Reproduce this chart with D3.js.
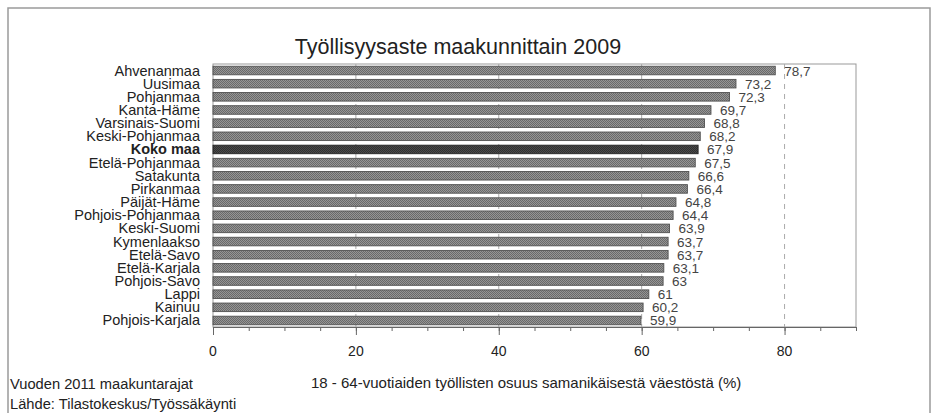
<!DOCTYPE html>
<html><head><meta charset="utf-8">
<script src="https://cdn.jsdelivr.net/npm/d3@7"></script>
<style>body{margin:0;background:#fff}svg{display:block;font-family:"Liberation Sans",Arial,sans-serif}</style>
</head><body>
<svg id="c" width="933" height="413"></svg>
<script>
const categories = ["Ahvenanmaa","Uusimaa","Pohjanmaa","Kanta-Häme","Varsinais-Suomi","Keski-Pohjanmaa","Koko maa","Etelä-Pohjanmaa","Satakunta","Pirkanmaa","Päijät-Häme","Pohjois-Pohjanmaa","Keski-Suomi","Kymenlaakso","Etelä-Savo","Etelä-Karjala","Pohjois-Savo","Lappi","Kainuu","Pohjois-Karjala"];
const values = [78.7,73.2,72.3,69.7,68.8,68.2,67.9,67.5,66.6,66.4,64.8,64.4,63.9,63.7,63.7,63.1,63,61,60.2,59.9];
const majorTicks = [0,20,40,60,80];
const minorTicks = d3.range(0,91,5);
const highlight = "Koko maa";
const title = "Työllisyysaste maakunnittain 2009";
const axisTitle = "18 - 64-vuotiaiden työllisten osuus samanikäisestä väestöstä (%)";
const footer = ["Vuoden 2011 maakuntarajat","Lähde: Tilastokeskus/Työssäkäynti"];

const svg = d3.select("#c");
const L=213,R=856,T=64,B=327;
const x = d3.scaleLinear().domain([0,90]).range([L,R]);
const y = d3.scaleBand().domain(categories).range([T,B]).paddingInner(0.35).paddingOuter(0.17);
const fmt = v => String(v).replace(".",",");

const defs = svg.append("defs");
function pat(id,bg,fg){
  const p = defs.append("pattern").attr("id",id).attr("width",2).attr("height",2).attr("patternUnits","userSpaceOnUse");
  p.append("rect").attr("width",2).attr("height",2).attr("fill",bg);
  p.append("rect").attr("width",1).attr("height",1).attr("fill",fg);
  p.append("rect").attr("x",1).attr("y",1).attr("width",1).attr("height",1).attr("fill",fg);
}
pat("pg","#959595","#6a6a6a");
pat("pd","#4a4a4a","#303030");

// outer frame
svg.append("rect").attr("x",8).attr("y",8).attr("width",922).attr("height",430).attr("fill","none").attr("stroke","#9a9a9a").attr("stroke-width",1.5);

// title
svg.append("text").attr("x",458).attr("y",54).attr("text-anchor","middle").attr("font-size",21.5).attr("fill","#222").text(title);

// plot border
svg.append("rect").attr("x",L).attr("y",T).attr("width",R-L).attr("height",B-T).attr("fill","none").attr("stroke","#999").attr("stroke-width",1);

// gridlines
svg.append("g").selectAll("line").data(majorTicks.filter(d=>d>0)).join("line")
  .attr("x1",d=>x(d)).attr("x2",d=>x(d)).attr("y1",T).attr("y2",B)
  .attr("stroke","#aaa").attr("stroke-width",1).attr("stroke-dasharray","5,5");

// bars
svg.append("g").selectAll("rect").data(categories).join("rect")
  .attr("x",x(0)).attr("y",d=>y(d)).attr("height",y.bandwidth())
  .attr("width",(d,i)=>x(values[i])-x(0))
  .attr("fill",d=>d===highlight?"url(#pd)":"url(#pg)")
  .attr("stroke",d=>d===highlight?"#222":"#505050").attr("stroke-width",0.9);

// value labels
svg.append("g").selectAll("text").data(categories).join("text")
  .attr("x",(d,i)=>x(values[i])+9).attr("y",d=>y(d)+y.bandwidth()/2+5)
  .attr("font-size",13.5).attr("fill","#444").text((d,i)=>fmt(values[i]));

// category labels
svg.append("g").selectAll("text").data(categories).join("text")
  .attr("x",200).attr("y",d=>y(d)+y.bandwidth()/2+5)
  .attr("text-anchor","end").attr("font-size",14.5)
  .attr("font-weight",d=>d===highlight?"bold":"normal")
  .attr("fill","#222").text(d=>d);

// x axis
const axG = svg.append("g").attr("transform",`translate(0,${B})`);
axG.call(d3.axisBottom(x).tickValues(minorTicks).tickSize(4).tickFormat(""));
axG.append("g").call(d3.axisBottom(x).tickValues(majorTicks).tickSize(8).tickFormat("").tickSizeOuter(0));
axG.selectAll("path").attr("stroke","#666");
axG.selectAll("line").attr("stroke","#666");
axG.append("g").selectAll("text").data(majorTicks).join("text")
  .attr("x",d=>x(d)).attr("y",29).attr("text-anchor","middle").attr("font-size",14).attr("fill","#222").text(d=>d);

// axis title & footer
svg.append("text").attr("x",311).attr("y",388).attr("font-size",15).attr("fill","#222").text(axisTitle);
svg.selectAll("text.ft").data(footer).join("text").attr("class","ft")
  .attr("x",10).attr("y",(d,i)=>389+i*20).attr("font-size",14.7).attr("fill","#222").text(d=>d);
</script>
</body></html>
